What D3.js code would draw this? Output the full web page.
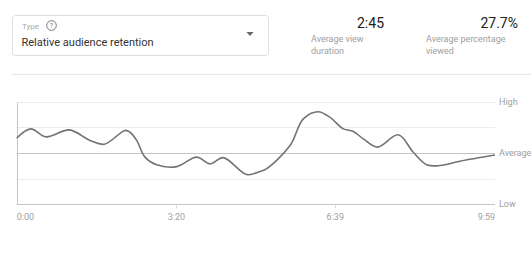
<!DOCTYPE html>
<html>
  <head>
    <meta charset="utf-8" />
    <script src="https://cdn.jsdelivr.net/npm/d3@7"></script>
    <style>
        body { margin: 0; background: #fff; font-family: Roboto, "Noto Sans", sans-serif; }
        svg { display: block; }
        .grid line { stroke: #ececec; stroke-width: 1; }
        .grid line.avg { stroke: #c4c4c4; }
        .grid line.low { stroke: #c4c4c4; }
        .lbl { fill: #9e9e9e; font-size: 9px; }
    </style>
  </head>
  <body>
    <svg width="531" height="256"></svg>

    <script type="text/javascript">
        // retention samples: seconds into video, value relative to average (0 = average)
        var seconds = [0, 17.5, 36.7, 65.9, 91.8, 109.7, 135.6, 141.9, 150.3, 160.7, 175.3, 200.4,
                       225.4, 242.1, 258.7, 288, 304.7, 313.1, 342.3, 358.9, 377.7, 392.4, 409,
                       421.5, 434.1, 451.9, 477.9, 496.7, 513.5, 530.1, 555.2, 599];
        var retention = [0.58, 0.94, 0.63, 0.90, 0.49, 0.34, 0.88, 0.81, 0.49, -0.16, -0.46, -0.53,
                         -0.16, -0.42, -0.18, -0.84, -0.72, -0.61, 0.29, 1.33, 1.61, 1.39, 0.94,
                         0.84, 0.55, 0.23, 0.71, 0.03, -0.46, -0.49, -0.32, -0.08];
        var xTicks = [0, 200, 399, 599];
        var xTickLabels = ["0:00", "3:20", "6:39", "9:59"];
        var levels = [2, 1, 0, -1, -2];
        var levelLabels = {"2": "High", "0": "Average", "-2": "Low"};

        var svg = d3.select("svg");

        // ---- header ----
        var head = svg.append("g").attr("class", "header");

        head.append("rect")
            .attr("x", 12.5).attr("y", 15.5)
            .attr("width", 256).attr("height", 40)
            .attr("rx", 3)
            .attr("fill", "#fff")
            .attr("stroke", "#dedede");

        head.append("text")
            .attr("x", 22).attr("y", 29)
            .attr("fill", "#a8a8a8")
            .attr("font-size", "8px")
            .text("Type");

        head.append("circle")
            .attr("cx", 51.5).attr("cy", 25.5)
            .attr("r", 4.8)
            .attr("fill", "none")
            .attr("stroke", "#777")
            .attr("stroke-width", 1);
        head.append("text")
            .attr("x", 51.5).attr("y", 28)
            .attr("text-anchor", "middle")
            .attr("fill", "#777")
            .attr("font-size", "7px")
            .text("?");

        head.append("text")
            .attr("x", 21.5).attr("y", 46)
            .attr("fill", "#333")
            .attr("font-size", "11px")
            .text("Relative audience retention");

        head.append("path")
            .attr("d", "M246.5,32 L253.5,32 L250,36 Z")
            .attr("fill", "#666");

        var stats = [
            {value: "2:45", x: 384, lx: 311, lines: ["Average view", "duration"]},
            {value: "27.7%", x: 518, lx: 426, lines: ["Average percentage", "viewed"]}
        ];

        stats.forEach(function(s) {
            head.append("text")
                .attr("x", s.x).attr("y", 28)
                .attr("text-anchor", "end")
                .attr("fill", "#212121")
                .attr("font-size", "14px")
                .text(s.value);
            s.lines.forEach(function(l, i) {
                head.append("text")
                    .attr("x", s.lx).attr("y", 42 + i * 12)
                    .attr("fill", "#9e9e9e")
                    .attr("font-size", "9px")
                    .text(l);
            });
        });

        svg.append("line")
            .attr("x1", 12).attr("x2", 531)
            .attr("y1", 74.5).attr("y2", 74.5)
            .attr("stroke", "#e6e6e6");

        // ---- chart ----
        var plotLeft = 16.7, plotRight = 495, plotTop = 101.7, plotBottom = 204.3;

        var x = d3.scaleLinear().domain([0, 599]).range([plotLeft, plotRight]);
        var y = d3.scaleLinear().domain([-2, 2]).range([plotBottom, plotTop]);

        var grid = svg.append("g").attr("class", "grid");
        grid.selectAll("line.h")
            .data(levels)
            .enter()
            .append("line")
            .attr("class", function(d) { return "h " + (d === 0 ? "avg" : (d === -2 ? "low" : "")); })
            .attr("x1", plotLeft)
            .attr("x2", plotRight)
            .attr("y1", function(d) { return Math.round(y(d)) + 0.5; })
            .attr("y2", function(d) { return Math.round(y(d)) + 0.5; });

        grid.append("line")
            .attr("class", "low")
            .attr("x1", Math.round(plotLeft) + 0.5).attr("x2", Math.round(plotLeft) + 0.5)
            .attr("y1", Math.round(y(2)) + 0.5).attr("y2", Math.round(y(-2)) + 0.5);

        svg.selectAll("text.level")
            .data(levels.filter(function(d) { return levelLabels[d] !== undefined; }))
            .enter()
            .append("text")
            .attr("class", "lbl level")
            .attr("x", plotRight + 4)
            .attr("y", function(d) { return y(d) + 3; })
            .text(function(d) { return levelLabels[d]; });

        // x ticks
        svg.selectAll("line.xtick")
            .data(xTicks.slice(1, 3))
            .enter()
            .append("line")
            .attr("class", "xtick")
            .attr("x1", function(d) { return Math.round(x(d)) + 0.5; })
            .attr("x2", function(d) { return Math.round(x(d)) + 0.5; })
            .attr("y1", plotBottom + 1).attr("y2", plotBottom + 4)
            .attr("stroke", "#ddd");

        svg.selectAll("text.xlbl")
            .data(xTicks)
            .enter()
            .append("text")
            .attr("class", "lbl xlbl")
            .attr("x", function(d) { return x(d); })
            .attr("y", 220)
            .attr("text-anchor", function(d, i) {
                if (i == 0) return "start";
                if (i == xTicks.length - 1) return "end";
                return "middle";
            })
            .text(function(d, i) { return xTickLabels[i]; });

        var pts = seconds.map(function(s, i) { return [s, retention[i]]; });

        var line = d3.line()
            .x(function(d) { return x(d[0]); })
            .y(function(d) { return y(d[1]); })
            .curve(d3.curveCatmullRom.alpha(0.5));

        svg.append("path")
            .datum(pts)
            .attr("d", line)
            .attr("fill", "none")
            .attr("stroke", "#737373")
            .attr("stroke-width", 1.6);
    </script>
  </body>
</html>
